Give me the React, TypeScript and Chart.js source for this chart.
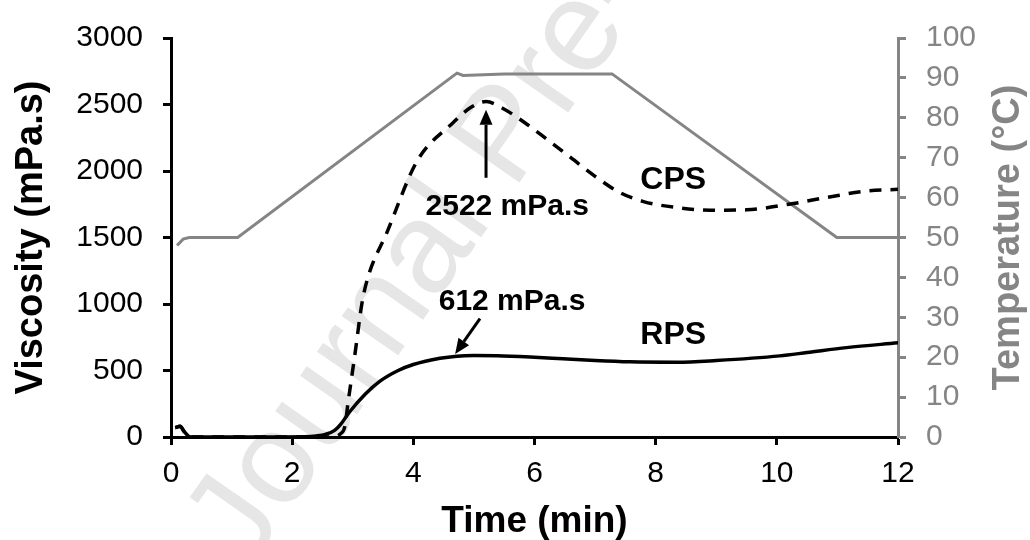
import React, { useEffect, useRef } from "react";
import { Chart, registerables } from "chart.js";

Chart.register(...registerables);

// ---- Data ----
const timeTemp = [0.1, 0.2, 0.3, 1.1, 4.72, 4.82, 5.5, 7.28, 10.99, 12];
const temperature = [48, 49.6, 50, 50, 91.2, 90.6, 91, 91, 50, 50];

const timeCPS = [0.07, 0.15, 0.22, 0.32, 1.5, 2.5, 2.7, 2.8, 2.87, 2.92, 3.04, 3.15, 3.25, 3.56, 4.06, 4.66, 4.94, 5.2, 5.48, 5.88, 6.2, 6.6, 7.0, 7.4, 7.8, 8.35, 8.9, 9.5, 10.2, 10.87, 11.48, 12];
const viscosityCPS = [70, 80, 40, 0, 0, 0, 5, 25, 80, 250, 635, 1000, 1200, 1533, 2073, 2365, 2475, 2522, 2470, 2350, 2240, 2100, 1960, 1840, 1770, 1725, 1705, 1708, 1750, 1805, 1850, 1862];

const timeRPS = [0.07, 0.15, 0.22, 0.32, 1.5, 2.2, 2.4, 2.55, 2.7, 2.8, 2.95, 3.2, 3.45, 3.75, 4.0, 4.44, 4.72, 5.0, 5.38, 6.0, 6.47, 7.0, 7.57, 8.35, 9.0, 10.05, 10.5, 11.15, 12];
const viscosityRPS = [70, 80, 40, 0, 0, 2, 8, 20, 50, 95, 190, 320, 420, 500, 545, 592, 608, 612, 611, 600, 588, 575, 565, 562, 575, 610, 635, 672, 708];

const annotationTexts = ["2522 mPa.s", "CPS", "612 mPa.s", "RPS"];
const annotationTime = [5.55, 8.29, 5.63, 8.29];
const annotationVisc = [1672, 1861, 956, 700];
const annotationBig = [false, true, false, true];

const arrowFromTime = [5.2, 5.1];
const arrowFromVisc = [1949, 890];
const arrowToTime = [5.2, 4.69];
const arrowToVisc = [2460, 625];

const xTitle = "Time (min)";
const yTitle = "Viscosity (mPa.s)";
const y1Title = "Temperature (°C)";
const watermark = "Journal Pre-proof";

const FONT = "'Liberation Sans', Arial, Helvetica, sans-serif";
const GRAY = "#858585";

const watermarkPlugin = {
  id: "watermark",
  beforeDraw(chart: any) {
    const { ctx } = chart;
    ctx.save();
    ctx.translate(248, 570);
    ctx.rotate((-55 * Math.PI) / 180);
    ctx.font = `130px ${FONT}`;
    ctx.fillStyle = "#e6e6e6";
    ctx.textBaseline = "alphabetic";
    ctx.fillText(watermark, 0, 0);
    ctx.restore();
  },
};

function drawArrow(ctx: CanvasRenderingContext2D, x1: number, y1: number, x2: number, y2: number) {
  const ang = Math.atan2(y2 - y1, x2 - x1);
  const head = 15;
  const half = 6.5;
  const bx = x2 - head * Math.cos(ang);
  const by = y2 - head * Math.sin(ang);
  ctx.beginPath();
  ctx.moveTo(x1, y1);
  ctx.lineTo(bx, by);
  ctx.lineWidth = 3;
  ctx.strokeStyle = "#000";
  ctx.stroke();
  ctx.beginPath();
  ctx.moveTo(x2, y2);
  ctx.lineTo(bx + half * Math.sin(ang), by - half * Math.cos(ang));
  ctx.lineTo(bx - half * Math.sin(ang), by + half * Math.cos(ang));
  ctx.closePath();
  ctx.fillStyle = "#000";
  ctx.fill();
}

const textPlugin = {
  id: "texts",
  afterDraw(chart: any) {
    const { ctx, chartArea: ca, scales } = chart;
    const xs = scales.x;
    const ys = scales.y;
    ctx.save();
    ctx.textAlign = "center";
    ctx.textBaseline = "alphabetic";
    ctx.fillStyle = "#000";
    annotationTexts.forEach((t, i) => {
      ctx.font = `bold ${annotationBig[i] ? 32 : 30}px ${FONT}`;
      ctx.fillText(t, xs.getPixelForValue(annotationTime[i]), ys.getPixelForValue(annotationVisc[i]));
    });
    arrowFromTime.forEach((t, i) => {
      drawArrow(
        ctx,
        xs.getPixelForValue(t),
        ys.getPixelForValue(arrowFromVisc[i]),
        xs.getPixelForValue(arrowToTime[i]),
        ys.getPixelForValue(arrowToVisc[i])
      );
    });
    const midY = (ca.top + ca.bottom) / 2;
    ctx.font = `bold 38px ${FONT}`;
    ctx.save();
    ctx.translate(ca.left - 129, midY);
    ctx.rotate(-Math.PI / 2);
    ctx.fillStyle = "#000";
    ctx.fillText(yTitle, 0, 0);
    ctx.restore();
    ctx.save();
    ctx.translate(ca.right + 121, midY);
    ctx.rotate(-Math.PI / 2);
    ctx.fillStyle = GRAY;
    ctx.fillText(y1Title, 0, 0);
    ctx.restore();
    ctx.font = `bold 37px ${FONT}`;
    ctx.fillStyle = "#000";
    ctx.fillText(xTitle, (ca.left + ca.right) / 2, ca.bottom + 95);
    ctx.restore();
  },
};

export default function App() {
  const ref = useRef<HTMLCanvasElement | null>(null);
  useEffect(() => {
    if (!ref.current) return;
    const tickFont = { family: FONT, size: 30 };
    const plain = (v: any) => String(v);
    const chart = new Chart(ref.current, {
      type: "line",
      data: {
        datasets: [
          {
            label: "RPS",
            data: timeRPS.map((t, i) => ({ x: t, y: viscosityRPS[i] })),
            yAxisID: "y",
            borderColor: "#000",
            borderWidth: 3.5,
            pointRadius: 0,
            cubicInterpolationMode: "monotone",
            order: 0,
          },
          {
            label: "CPS",
            data: timeCPS.map((t, i) => ({ x: t, y: viscosityCPS[i] })),
            yAxisID: "y",
            borderColor: "#000",
            borderWidth: 3.5,
            borderDash: [12, 9],
            pointRadius: 0,
            cubicInterpolationMode: "monotone",
            order: 1,
          },
          {
            label: "Temperature",
            data: timeTemp.map((t, i) => ({ x: t, y: temperature[i] })),
            yAxisID: "y1",
            borderColor: GRAY,
            borderWidth: 3,
            pointRadius: 0,
            tension: 0,
            order: 2,
          },
        ],
      } as any,
      options: {
        responsive: false,
        animation: false,
        layout: { padding: { top: 26, left: 0, right: 0, bottom: 0 } },
        plugins: { legend: { display: false }, tooltip: { enabled: false } },
        scales: {
          x: {
            type: "linear",
            min: 0,
            max: 12,
            ticks: { stepSize: 2, color: "#000", font: tickFont, padding: 11, maxRotation: 0, callback: plain },
            grid: { drawOnChartArea: false, tickLength: 8, tickWidth: 3, tickColor: "#000" },
            border: { color: "#000", width: 3 },
            afterFit(s: any) {
              s.height = 103;
            },
          },
          y: {
            position: "left",
            min: 0,
            max: 3000,
            ticks: { stepSize: 500, color: "#000", font: tickFont, padding: 20, callback: plain },
            grid: { drawOnChartArea: false, tickLength: 8, tickWidth: 3, tickColor: "#000" },
            border: { color: "#000", width: 3 },
            afterFit(s: any) {
              s.width = 171;
            },
          },
          y1: {
            position: "right",
            min: 0,
            max: 100,
            ticks: { stepSize: 10, color: GRAY, font: tickFont, padding: 20, callback: plain },
            grid: { drawOnChartArea: false, tickLength: 8, tickWidth: 3, tickColor: GRAY },
            border: { color: GRAY, width: 3 },
            afterFit(s: any) {
              s.width = 132;
            },
          },
        },
      } as any,
      plugins: [watermarkPlugin, textPlugin],
    });
    return () => chart.destroy();
  }, []);
  return (
    <div style={{ position: "absolute", left: 0, top: 0, width: 1030, height: 540, background: "#fff" }}>
      <canvas ref={ref} width={1030} height={540} />
    </div>
  );
}
